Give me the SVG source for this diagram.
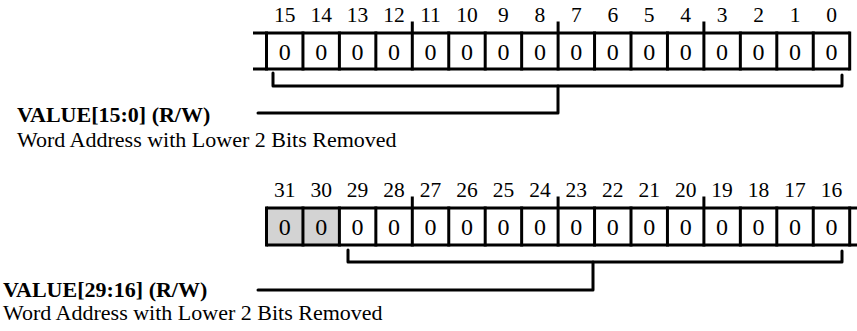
<svg xmlns="http://www.w3.org/2000/svg" width="857" height="331" viewBox="0 0 857 331">
<style>
.ln{fill:none;stroke:#000;stroke-width:3}
.v{stroke-linecap:square}
.br{fill:none;stroke:#000;stroke-width:3;stroke-linejoin:round;stroke-linecap:round}
.bit{font-family:"Liberation Serif","Times New Roman",serif;font-size:21.5px;text-anchor:middle;fill:#000}
.val{font-family:"Liberation Serif","Times New Roman",serif;font-size:24px;text-anchor:middle;fill:#000}
.name{font-family:"Liberation Serif","Times New Roman",serif;font-size:22px;font-weight:bold;fill:#000}
.desc{font-family:"Liberation Serif","Times New Roman",serif;font-size:22px;fill:#000}
.res{fill:#d3d3d3}
</style>
<rect width="857" height="331" fill="#fff"/>
<g id="reg-low">
<path class="ln" d="M253 33H849.7M253 69H849.7"/>
<path class="ln v" d="M266.5 33V69M302.95 33V69M339.4 33V69M375.85 33V69M412.3 23V69M448.75 33V69M485.2 33V69M521.65 33V69M558.1 23V69M594.55 33V69M631 33V69M667.45 33V69M703.9 23V69M740.35 33V69M776.8 33V69M813.25 33V69M849.7 33V69"/>
<g class="bit">
<text x="284.7" y="22">15</text><text x="321.2" y="22">14</text><text x="357.6" y="22">13</text><text x="394.1" y="22">12</text>
<text x="430.5" y="22">11</text><text x="467" y="22">10</text><text x="503.4" y="22">9</text><text x="539.9" y="22">8</text>
<text x="576.3" y="22">7</text><text x="612.8" y="22">6</text><text x="649.2" y="22">5</text><text x="685.7" y="22">4</text>
<text x="722.1" y="22">3</text><text x="758.6" y="22">2</text><text x="795" y="22">1</text><text x="831.5" y="22">0</text>
</g>
<g class="val">
<text x="284.7" y="60">0</text><text x="321.2" y="60">0</text><text x="357.6" y="60">0</text><text x="394.1" y="60">0</text>
<text x="430.5" y="60">0</text><text x="467" y="60">0</text><text x="503.4" y="60">0</text><text x="539.9" y="60">0</text>
<text x="576.3" y="60">0</text><text x="612.8" y="60">0</text><text x="649.2" y="60">0</text><text x="685.7" y="60">0</text>
<text x="722.1" y="60">0</text><text x="758.6" y="60">0</text><text x="795" y="60">0</text><text x="831.5" y="60">0</text>
</g>
</g>
<g id="reg-high">
<rect class="res" x="266.5" y="208" width="72.9" height="37"/>
<path class="ln" d="M266.5 208H857M266.5 245H857"/>
<path class="ln v" d="M266.5 208V245M302.95 208V245M339.4 208V245M375.85 208V245M412.3 198V245M448.75 208V245M485.2 208V245M521.65 208V245M558.1 198V245M594.55 208V245M631 208V245M667.45 208V245M703.9 198V245M740.35 208V245M776.8 208V245M813.25 208V245M849.7 208V245"/>
<g class="bit">
<text x="284.7" y="197">31</text><text x="321.2" y="197">30</text><text x="357.6" y="197">29</text><text x="394.1" y="197">28</text>
<text x="430.5" y="197">27</text><text x="467" y="197">26</text><text x="503.4" y="197">25</text><text x="539.9" y="197">24</text>
<text x="576.3" y="197">23</text><text x="612.8" y="197">22</text><text x="649.2" y="197">21</text><text x="685.7" y="197">20</text>
<text x="722.1" y="197">19</text><text x="758.6" y="197">18</text><text x="795" y="197">17</text><text x="831.5" y="197">16</text>
</g>
<g class="val">
<text x="284.7" y="235">0</text><text x="321.2" y="235">0</text><text x="357.6" y="235">0</text><text x="394.1" y="235">0</text>
<text x="430.5" y="235">0</text><text x="467" y="235">0</text><text x="503.4" y="235">0</text><text x="539.9" y="235">0</text>
<text x="576.3" y="235">0</text><text x="612.8" y="235">0</text><text x="649.2" y="235">0</text><text x="685.7" y="235">0</text>
<text x="722.1" y="235">0</text><text x="758.6" y="235">0</text><text x="795" y="235">0</text><text x="831.5" y="235">0</text>
</g>
</g>
<g id="field-low">
<text class="name" x="17" y="122">VALUE[15:0] (R/W)</text>
<text class="desc" x="17" y="147">Word Address with Lower 2 Bits Removed</text>
</g>
<g id="field-high">
<text class="name" x="3" y="297">VALUE[29:16] (R/W)</text>
<text class="desc" x="3" y="320">Word Address with Lower 2 Bits Removed</text>
</g>
<g id="connectors">
<path class="br" d="M273 73V86H842V75"/>
<path class="br" d="M558 86V113H258"/>
<path class="br" d="M348 250V262H842V251"/>
<path class="br" d="M593 262V290H258"/>
</g>
</svg>
